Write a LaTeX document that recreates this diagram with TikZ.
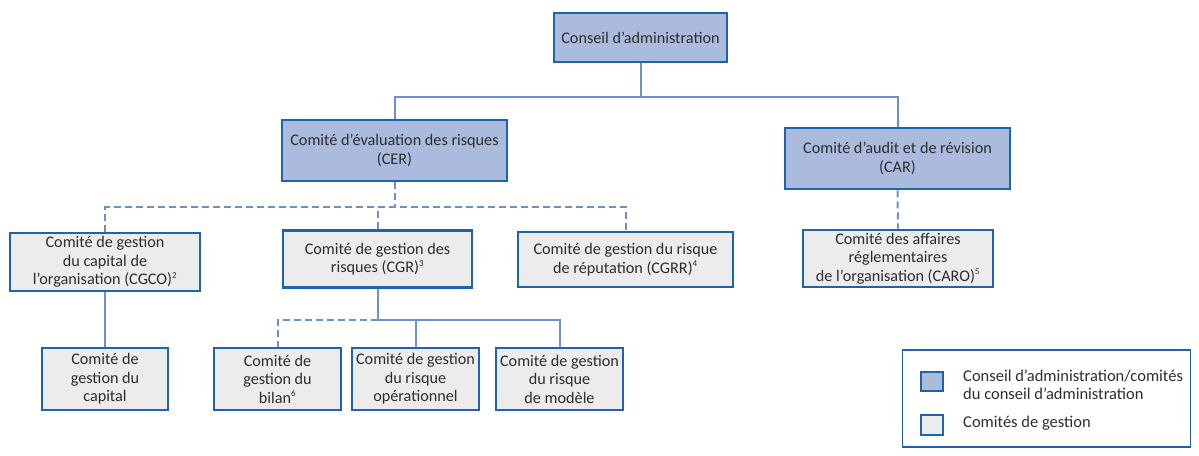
\documentclass[tikz,border=0pt]{standalone}
\usepackage{fontspec}
\setmainfont{Carlito}
\definecolor{bordc}{RGB}{30,100,170}
\definecolor{boardf}{RGB}{170,187,222}
\definecolor{mgmtf}{RGB}{236,236,236}
\definecolor{connc}{RGB}{108,144,204}
\definecolor{txt}{RGB}{45,45,45}
\newcommand{\fn}[1]{\textsuperscript{\fontsize{9}{9}\selectfont #1}}
\tikzset{
  box/.style={draw=bordc, line width=2.6pt, text=txt, align=center, inner sep=0pt,
    font=\fontsize{16.2}{18.5}\selectfont},
  board/.style={box, fill=boardf},
  mgmt/.style={box, fill=mgmtf},
  conn/.style={draw=connc, line width=2pt},
  dconn/.style={conn, dash pattern=on 7pt off 4pt},
}
\begin{document}
\begin{tikzpicture}[x=1pt,y=-1pt]
\useasboundingbox (0,0) rectangle (1199,455);
% top level
\node[board, minimum width=173, minimum height=49] (conseil) at (640.5,37.5) {Conseil d’administration};
\node[board, minimum width=225, minimum height=61] (cer) at (394.5,150.5) {Comité d’évaluation des risques\\(CER)};
\node[board, minimum width=225, minimum height=61] (car) at (897.5,158.5) {Comité d’audit et de révision\\(CAR)};
% middle row
\node[mgmt, minimum width=190, minimum height=58] (cgco) at (105,262) {Comité de gestion\\du capital de\\l’organisation (CGCO)\fn{2}};
\node[mgmt, minimum width=189, minimum height=57] (cgr) at (377.5,259) {Comité de gestion des\\risques (CGR)\fn{3}};
\node[mgmt, minimum width=215, minimum height=55] (cgrr) at (625.5,259.5) {Comité de gestion du risque\\de réputation (CGRR)\fn{4}};
\node[mgmt, minimum width=190, minimum height=57] (caro) at (898,258.5) {Comité des affaires\\réglementaires\\de l’organisation (CARO)\fn{5}};
% bottom row
\node[mgmt, minimum width=126, minimum height=62] (capital) at (105,379) {Comité de\\gestion du\\capital};
\node[mgmt, minimum width=127, minimum height=62] (bilan) at (277.5,379) {Comité de\\gestion du\\bilan\fn{6}};
\node[mgmt, minimum width=127, minimum height=62] (oper) at (415.5,379) {Comité de gestion\\du risque\\opérationnel};
\node[mgmt, minimum width=127, minimum height=62] (modele) at (559.5,379) {Comité de gestion\\du risque\\de modèle};
% connectors
\draw[conn] (conseil.south) -- ++(0,33.5) coordinate (j1);
\draw[conn] (cer.north) |- (j1) -| (car.north);
\draw[dconn] (cer.south) -- ++(0,25) coordinate (j2);
\draw[dconn] (cgco.north) |- (cgrr.north |- j2) -- (cgrr.north);
\draw[dconn] (cgr.north) -- (cgr.north |- j2);
\draw[dconn] (car.south) -- (caro.north);
\draw[conn] (cgco.south) -- (capital.north);
\draw[conn] (cgr.south) -- ++(0,31) coordinate (j3);
\draw[conn] (j3) -| (modele.north);
\draw[conn] (oper.north) -- (oper.north |- j3);
\draw[dconn] (j3) -| (bilan.north);
% legend
\node[draw=bordc, line width=1.3pt, minimum width=288, minimum height=97, inner sep=0pt] (leg) at (1046.5,398.5) {};
\node[board, line width=2.2pt, minimum width=22, minimum height=19] (lb) at (932,381.5) {};
\node[mgmt, line width=2.2pt, minimum width=22, minimum height=20] (lg) at (932,425) {};
\node[anchor=west, align=left, text=txt, inner sep=0pt, font=\fontsize{16.5}{17.5}\selectfont] (lbt) at (963,384.5) {Conseil d’administration/comités\\du conseil d’administration};
\node[anchor=west, align=left, text=txt, inner sep=0pt, font=\fontsize{16.5}{17.5}\selectfont] (lgt) at (963,423.5) {Comités de gestion};
\end{tikzpicture}
\end{document}
